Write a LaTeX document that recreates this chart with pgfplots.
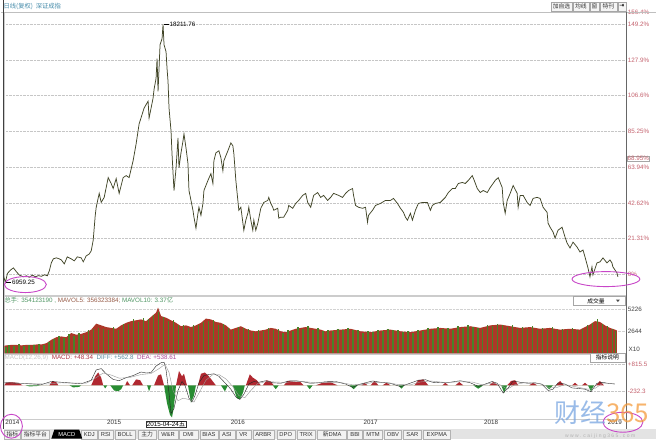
\documentclass[border=0pt]{standalone}
\usepackage{pgfplots}
\pgfplotsset{compat=1.18}
\usepackage{fontspec}
\setmainfont{Liberation Sans}
\newfontfamily\cjk{Noto Sans CJK SC}
\newfontfamily\dejavu{DejaVu Sans}
\definecolor{lblred}{RGB}{196,96,108}
\definecolor{pline}{RGB}{66,70,40}
\definecolor{vred}{RGB}{172,56,40}
\definecolor{vgreen}{RGB}{74,130,40}
\definecolor{mred}{RGB}{176,40,48}
\definecolor{mgreen}{RGB}{40,140,50}
\definecolor{teal1}{RGB}{70,140,170}
\definecolor{magen}{RGB}{200,70,200}
\newcommand\lbl{\fontsize{6.3}{7}\selectfont}
\begin{document}
\begin{tikzpicture}[x=1pt,y=1pt]
\fill[white] (0,0) rectangle (656,440);
% ---------------- price panel ----------------
\begin{axis}[
  at={(3pt,144pt)}, anchor=south west, scale only axis, width=623pt, height=284pt,
  xmin=3, xmax=626, ymin=-12.7, ymax=156.4,
  axis line style={gray!40}, xtick=\empty,
  ytick={0,21.31,42.62,63.94,85.25,106.6,127.9,149.2,156.4},
  yticklabels={0\%,21.31\%,42.62\%,63.94\%,85.25\%,106.6\%,127.9\%,149.2\%,156.4\%},
  yticklabel pos=right, major tick length=0pt,
  ymajorgrids, grid style={gray!45, densely dotted},
  yticklabel style={font=\lbl, text=lblred, inner sep=0.8pt, xshift=1pt},
  extra y ticks={68.95}, extra y tick labels={68.95\%},
  extra y tick style={grid=none, yticklabel style={draw=gray!70, fill=white, inner sep=0.6pt}},
  clip=false,
]
\addplot[pline, line width=0.75pt] coordinates {
(2,-1.0)(4,-4.8)(6,0.5)(9,2.5)(12,3.8)(15,1.5)(18,-0.5)(22,-1.5)(25,-0.9)(28,-1.8)(31,-0.5)(34,-1.5)(37,-0.8)(40,-1.2)(43,-0.3)(46,-0.9)(48,2.1)(50,6.8)(52,9.2)(55,9.8)(58,9.2)(60,8.6)(63,6.2)(66,10.4)(70,9.2)(73,8.0)(76,10.4)(80,9.8)(82,7.4)(85,11.0)(88,12.1)(90,14.0)(92,20.4)(94,35.0)(95,40.0)(98,48.3)(100,42.9)(103,45.9)(107,57.7)(110,54.2)(112,51.2)(115,57.1)(118,48.3)(122,57.7)(125,58.9)(128,57.7)(132,67.8)(135,77.8)(138,89.7)(143,99.2)(147,103.3)(148,93.2)(152,105.1)(153,110.4)(155,116.9)(156,128.7)(157,109.2)(159,137.0)(161,140.6)(162,149.2)(163,137.0)(165,132.9)(166,122.9)(167,115.2)(168,99.2)(170,85.6)(171,71.9)(172,60.7)(173,50.0)(175,63.0)(177,81.4)(178,63.6)(180,72.5)(182,79.6)(183,83.8)(185,75.5)(187,66.0)(188,50.0)(190,44.1)(192,38.2)(193,34.1)(195,27.5)(197,36.4)(198,40.0)(200,35.2)(202,42.3)(203,50.0)(207,56.0)(210,60.1)(212,54.2)(213,67.8)(215,72.5)(218,73.7)(220,69.6)(222,61.8)(223,67.8)(227,73.7)(230,78.4)(232,76.7)(233,71.9)(235,56.0)(237,44.1)(238,38.2)(240,40.0)(243,26.3)(245,32.3)(247,36.4)(248,40.0)(250,32.3)(252,26.3)(253,32.3)(255,26.3)(257,30.5)(260,39.4)(263,42.9)(267,44.1)(268,45.9)(270,42.3)(272,40.0)(273,38.2)(277,39.4)(278,33.5)(280,34.1)(283,34.1)(287,38.2)(288,41.1)(292,39.4)(295,42.3)(298,44.1)(302,47.1)(305,48.3)(307,42.9)(310,40.0)(313,47.1)(317,48.8)(320,45.9)(323,47.1)(327,44.1)(330,45.9)(333,48.3)(338,47.1)(342,45.9)(345,48.3)(348,50.0)(352,51.2)(353,47.1)(355,41.1)(358,40.0)(362,39.4)(365,40.0)(367,31.1)(368,35.2)(372,38.2)(375,41.1)(380,42.3)(385,44.1)(390,44.1)(393,45.3)(397,42.3)(400,39.4)(403,37.0)(405,34.1)(407,32.3)(410,36.4)(412,32.3)(415,38.2)(418,42.3)(422,42.9)(427,42.9)(430,38.2)(432,41.1)(435,42.3)(440,42.9)(445,45.9)(448,48.8)(452,51.2)(455,51.2)(458,54.2)(462,54.8)(465,54.2)(468,56.0)(472,58.9)(474,56.0)(477,51.2)(480,48.8)(483,50.0)(487,48.8)(490,51.8)(495,56.0)(498,57.7)(502,51.8)(503,42.9)(505,36.4)(507,44.1)(510,48.3)(513,53.0)(517,48.3)(518,40.0)(520,47.1)(523,47.1)(527,42.9)(530,41.1)(533,45.3)(537,45.9)(540,45.3)(543,40.0)(547,37.0)(548,30.5)(550,28.1)(553,25.2)(555,21.6)(558,26.3)(562,28.1)(565,22.2)(567,18.7)(570,15.7)(573,19.2)(577,16.3)(580,13.3)(583,14.5)(585,10.4)(588,3.8)(590,-1.5)(592,4.4)(593,-0.3)(597,6.8)(600,7.4)(603,9.8)(607,6.8)(610,8.6)(612,6.8)(613,4.4)(617,0.9)(618,-1.5)
};
\draw[black, line width=0.4pt] (axis cs:162.5,149.2) -- (axis cs:168,149.2) node[right, inner sep=0.5pt, font=\lbl, text=black]{18211.76};
\draw[black, line width=0.4pt] (axis cs:5,-4.8) -- (axis cs:10,-4.8) node[right, inner sep=0.5pt, font=\lbl, text=black]{6959.25};
\end{axis}
% ---------------- volume panel ----------------
\begin{axis}[
  at={(3pt,86pt)}, anchor=south west, scale only axis, width=623pt, height=57pt,
  xmin=3, xmax=626, ymin=0, ymax=6692,
  axis line style={gray!40}, xtick=\empty,
  ytick={2644,5226}, yticklabels={2644,5226},
  yticklabel pos=right, major tick length=0pt,
  ymajorgrids, grid style={gray!35, densely dotted},
  yticklabel style={font=\lbl, text=black!75, inner sep=0.8pt, xshift=1pt},
  clip=false,
]
\addplot[fill=vred, draw=none] coordinates {
(3,0)(3,900)(5,950)(10,1000)(15,1000)(20,950)(25,1000)(30,1000)(35,1050)(40,1050)(45,1200)(50,1600)(55,1900)(60,2000)(65,1900)(70,2400)(75,2200)(80,2300)(85,2500)(90,2800)(95,3500)(100,3300)(105,3100)(110,3000)(115,2900)(120,3300)(125,3600)(130,3800)(135,3900)(140,4000)(145,3800)(150,4300)(155,4800)(157,5400)(160,4400)(165,4200)(170,3900)(175,3600)(180,3200)(185,3300)(190,3100)(195,3300)(200,3600)(205,4100)(210,4000)(215,3700)(220,3600)(225,3300)(230,2800)(235,3000)(240,3200)(245,2900)(250,2700)(255,2600)(260,2700)(265,2800)(270,3000)(275,2900)(280,2600)(285,2500)(290,2700)(295,2900)(300,3000)(305,3100)(310,3000)(315,2900)(320,2800)(325,2600)(330,2700)(335,2750)(340,2800)(345,2850)(350,2900)(355,2750)(360,2600)(365,2550)(370,2500)(375,2600)(380,2700)(385,2750)(390,2800)(395,2700)(400,2600)(405,2550)(410,2500)(415,2600)(420,2700)(425,2800)(430,2900)(435,2950)(440,3000)(445,2950)(450,2900)(455,3000)(460,3100)(465,3150)(470,3200)(475,3100)(480,3000)(485,3150)(490,3300)(495,3350)(500,3400)(505,3300)(510,3200)(515,3100)(520,3000)(525,3050)(530,3100)(535,3000)(540,2900)(545,2950)(550,3000)(555,2900)(560,2800)(565,2850)(570,2900)(575,2850)(580,2800)(585,3100)(590,3400)(595,3800)(600,3700)(605,3300)(610,3000)(615,2800)(617,2700)(617,0)
} \closedcycle;
\addplot[ycomb, draw=vgreen, line width=1.5pt] coordinates {
(4.5,800)(7.5,1000)(12.5,900)(17.5,1050)(22.5,900)(27.5,1000)(32.5,950)(37.5,1100)(42.5,1000)(47.5,1300)(52.5,1700)(57.5,2000)(62.5,1800)(67.5,2300)(72.5,2100)(77.5,2400)(82.5,2200)(87.5,2700)(92.5,2900)(97.5,3000)(102.5,2900)(107.5,2800)(112.5,3100)(117.5,2800)(122.5,3500)(127.5,3500)(132.5,4000)(137.5,3700)(142.5,4200)(147.5,4100)(152.5,4500)(157.5,4900)(162.5,4300)(167.5,3800)(172.5,3900)(177.5,3300)(182.5,3400)(187.5,3000)(192.5,3400)(197.5,3300)(202.5,3700)(207.5,3800)(212.5,3900)(217.5,3400)(222.5,3500)(227.5,3000)(232.5,2700)(237.5,3100)(242.5,3000)(247.5,2900)(252.5,2500)(257.5,2800)(262.5,2600)(267.5,3000)(272.5,2800)(277.5,2900)(282.5,2400)(287.5,2700)(292.5,2600)(297.5,3100)(302.5,2900)(307.5,3200)(312.5,2800)(317.5,3000)(322.5,2600)(327.5,2800)(332.5,2600)(337.5,2900)(342.5,2700)(347.5,3000)(352.5,2700)(357.5,2800)(362.5,2400)(367.5,2600)(372.5,2500)(377.5,2800)(382.5,2600)(387.5,2900)(392.5,2700)(397.5,2800)(402.5,2500)(407.5,2600)(412.5,2400)(417.5,2800)(422.5,2600)(427.5,3000)(432.5,2800)(437.5,3100)(442.5,2900)(447.5,3000)(452.5,2800)(457.5,3200)(462.5,3000)(467.5,3300)(472.5,3100)(477.5,3000)(482.5,2900)(487.5,3300)(492.5,3200)(497.5,3500)(502.5,3300)(507.5,3100)(512.5,3300)(517.5,2900)(522.5,3100)(527.5,2900)(532.5,3200)(537.5,2800)(542.5,3000)(547.5,2800)(552.5,3100)(557.5,2700)(562.5,2900)(567.5,2800)(572.5,3000)(577.5,2700)(582.5,2900)(587.5,3300)(592.5,3600)(597.5,4000)(602.5,3500)(607.5,3200)(612.5,2900)(615.5,2600)
};
\end{axis}
% ---------------- MACD panel ----------------
\begin{axis}[
  at={(3pt,20pt)}, anchor=south west, scale only axis, width=623pt, height=65pt,
  xmin=3, xmax=626, ymin=-1319, ymax=1203,
  axis line style={gray!40},
  xtick={11,113,237,370,491,615}, xticklabels={2014,2015,2016,2017,2018,2019},
  xticklabel style={font=\lbl, text=black!80, inner sep=1pt},
  ytick={-232.3,815.5}, yticklabels={-232.3,+815.5},
  yticklabel pos=right, major tick length=0pt,
  ymajorgrids, grid style={gray!45, densely dotted},
  yticklabel style={font=\lbl, text=lblred, inner sep=0.8pt, xshift=1pt},
  clip=false,
]
\addplot[fill=mred, draw=none] coordinates {
(3,0)(5,130)(12,120)(18,80)(21,0)(48,0)(51,170)(55,120)(57,0)(90,0)(94,350)(97,500)(100,300)(102,0)(124,0)(126,170)(129,0)(131,0)(135,230)(139,200)(142,0)(153,0)(157,380)(160,430)(163,0)(175,0)(178,560)(181,350)(183,450)(186,0)(197,0)(200,450)(204,500)(208,350)(212,150)(215,0)(245,0)(249,430)(252,300)(256,200)(260,0)(262,0)(266,200)(270,150)(273,0)(283,0)(287,170)(292,150)(300,120)(303,0)(315,0)(322,100)(330,120)(337,0)(361,0)(364,100)(367,0)(370,0)(374,170)(378,0)(382,0)(386,100)(390,0)(414,0)(418,200)(423,230)(428,0)(442,0)(445,100)(448,0)(455,0)(459,130)(463,0)(489,0)(493,130)(498,0)(507,0)(511,170)(515,200)(518,0)(529,0)(533,100)(537,0)(556,0)(560,170)(564,0)(572,0)(575,100)(578,0)(582,0)(585,100)(588,0)(596,0)(600,170)(604,0)
} \closedcycle;
\addplot[fill=mgreen, draw=none] coordinates {
(24,0)(28,-40)(35,-30)(40,0)(68,0)(72,-80)(78,-60)(80,0)(102,0)(104,-120)(106,0)(109,0)(113,-200)(117,-230)(120,-150)(122,0)(146,0)(148,-230)(150,0)(163,0)(166,-700)(169,-1150)(171,-1250)(173,-800)(175,0)(187,0)(190,-670)(193,-400)(195,0)(220,0)(224,-230)(227,0)(232,0)(236,-500)(239,-540)(242,-300)(244,0)(272,0)(275,-150)(278,0)(306,0)(309,-150)(312,0)(349,0)(353,-150)(357,0)(398,0)(401,-130)(404,0)(473,0)(478,-130)(483,0)(501,0)(504,-290)(507,0)(545,0)(549,-150)(553,0)(588,0)(591,-230)(594,0)
} \closedcycle;
\addplot[black!85, line width=0.4pt] coordinates {
(3,100)(20,80)(40,30)(50,150)(60,120)(80,60)(90,200)(95,600)(100,650)(105,450)(112,230)(118,180)(125,300)(132,380)(140,520)(145,480)(150,500)(155,750)(160,880)(163,900)(165,600)(168,-300)(170,-1100)(173,-900)(177,-200)(181,150)(184,0)(188,-500)(191,-650)(194,-400)(198,100)(203,380)(208,420)(213,450)(218,350)(224,100)(230,-150)(235,-450)(239,-550)(243,-350)(248,50)(253,150)(258,120)(265,180)(272,100)(280,80)(288,170)(295,180)(302,140)(310,80)(318,100)(325,140)(335,150)(345,50)(352,-80)(358,30)(365,100)(372,170)(380,120)(390,80)(400,-50)(408,60)(418,200)(425,220)(432,120)(440,100)(450,120)(460,180)(470,100)(478,-40)(485,50)(492,150)(497,80)(503,-300)(508,-100)(513,170)(520,120)(528,80)(535,100)(542,40)(548,-200)(553,-150)(558,100)(565,50)(572,-100)(578,-120)(585,-150)(591,-250)(597,80)(602,120)(608,80)(615,50)
};
\addplot[gray!80, line width=0.4pt] coordinates {
(3,110)(25,70)(45,50)(60,100)(85,80)(95,300)(102,480)(110,400)(118,280)(128,300)(140,420)(150,460)(158,650)(164,820)(168,500)(172,-200)(177,-600)(182,-500)(188,-550)(193,-650)(198,-300)(205,200)(212,420)(218,420)(225,250)(232,-50)(238,-400)(244,-480)(250,-200)(257,80)(265,140)(275,130)(285,110)(295,160)(305,140)(315,100)(328,120)(340,110)(352,20)(362,40)(372,110)(385,120)(398,30)(410,20)(420,130)(430,170)(445,110)(460,140)(472,130)(482,20)(492,90)(500,20)(507,-150)(515,30)(525,110)(540,70)(550,-100)(557,-80)(565,30)(575,-50)(588,-150)(595,-120)(602,60)(615,60)
};
\end{axis}
% ---------------- frame and decorations ----------------
\draw[gray!50] (0,428) -- (656,428);
\draw[black!75, line width=0.6pt] (2,10) -- (2,440);
\draw[black!60, line width=0.5pt] (626,10) -- (626,428);
% top texts
\node[anchor=west, inner sep=0pt, font=\cjk\fontsize{6.3}{7}\selectfont, text=teal1] at (2,434) {日线(复权)\ \ 深证成指};
\foreach \xa/\xb/\t in {551/572/加自选, 573/589/均线, 590/599/窗, 600/617/特刊}{
  \draw[gray!70, fill=gray!8] (\xa,429.5) rectangle (\xb,438.5);
  \node[font=\cjk\fontsize{5.8}{6}\selectfont, inner sep=0pt, text=black!80] at ({(\xa+\xb)/2},434) {\t};
}
\draw[gray!70, fill=gray!8] (618,429.5) rectangle (626,438.5);
\node[font=\dejavu\fontsize{6}{6}\selectfont, inner sep=0pt] at (622,434) {⇥};
% volume header and box
\node[anchor=west, inner sep=0pt, font=\lbl] at (3,139) {{\cjk\color[RGB]{80,150,100}总手}\textcolor[RGB]{80,150,100}{: 354123190 ,} \textcolor[RGB]{150,90,70}{MAVOL5: 356323384;} \textcolor[RGB]{80,150,100}{MAVOL10: 3.37{\cjk 亿}}};
\draw[gray!70, fill=white] (573,134.5) rectangle (625,143);
\node[font=\cjk\fontsize{5.8}{6}\selectfont, inner sep=0pt] at (596,138.7) {成交量};
\fill[black!70] (616,140) -- (620,140) -- (618,137.5) -- cycle;
\node[anchor=west, inner sep=0pt, font=\lbl, text=black!75] at (628.5,90) {X10};
% MACD header and box
\node[anchor=west, inner sep=0pt, font=\lbl] at (3,82) {\textcolor{gray!45}{MACD(12,26,9)}\ \ \textcolor[RGB]{176,50,70}{MACD: +48.34}\ \ \textcolor[RGB]{90,140,160}{DIFF: +562.8}\ \ \textcolor[RGB]{170,70,150}{DEA: +538.61}};
\draw[gray!70, fill=white] (590,77.5) rectangle (625,86);
\node[font=\cjk\fontsize{5.8}{6}\selectfont, inner sep=0pt] at (607.5,81.7) {指标说明};
% cursor date box
\node[draw=black!80, fill=white, inner sep=0.8pt, font=\lbl] at (165,15) {2015-04-24{\cjk 五}};
% bottom tab bar
\fill[gray!22] (3,0) rectangle (656,10);
\foreach \xa/\xb/\t in {3/19/{\cjk 指标}, 20/48/{\cjk 指标平台}, 80/96/KDJ, 97/112/RSI, 114/134/BOLL, 137/155/{\cjk 主力}, 157/177/W\&R, 178/197/DMI, 199/217/BIAS, 218/234/ASI, 235/250/VR, 252/273/ARBR, 276/294/DPO, 296/315/TRIX, 317/346/{\cjk 新}DMA, 347/362/BBI, 363/382/MTM, 384/401/OBV, 403/421/SAR, 423/450/EXPMA}{
  \draw[gray!60, fill=gray!10] (\xa,0.5) rectangle (\xb,9.5);
  \node[font=\fontsize{5.8}{6}\selectfont, inner sep=0pt, text=black!80] at ({(\xa+\xb)/2},5) {\t};
}
\fill[black] (50,0.5) -- (53,9.5) -- (78,9.5) -- (81,0.5) -- cycle;
\node[font=\fontsize{5.8}{6}\selectfont, inner sep=0pt, text=white] at (65.5,5) {MACD};
% hand-drawn ellipses
\draw[magen, line width=0.9pt] (24,155) ellipse (21 and 8);
\draw[magen, line width=0.9pt] (606,160.5) ellipse (34 and 7.5);
\draw[magen, line width=0.9pt] (10,13) ellipse (11 and 12);
\draw[magen, line width=0.9pt] (623,17) ellipse (20 and 10);
% watermark
\node[anchor=west, inner sep=0pt, font=\cjk\fontsize{26}{26}\selectfont, opacity=0.75] at (554,27) {\textcolor[RGB]{120,165,225}{财经}\textcolor[RGB]{245,155,60}{365}};
\node[anchor=west, inner sep=0pt, font=\fontsize{5}{5}\selectfont, text=gray!60] at (565,3) {w w w . c a i j i n g 3 6 5 . c o m};
\end{tikzpicture}
\end{document}
